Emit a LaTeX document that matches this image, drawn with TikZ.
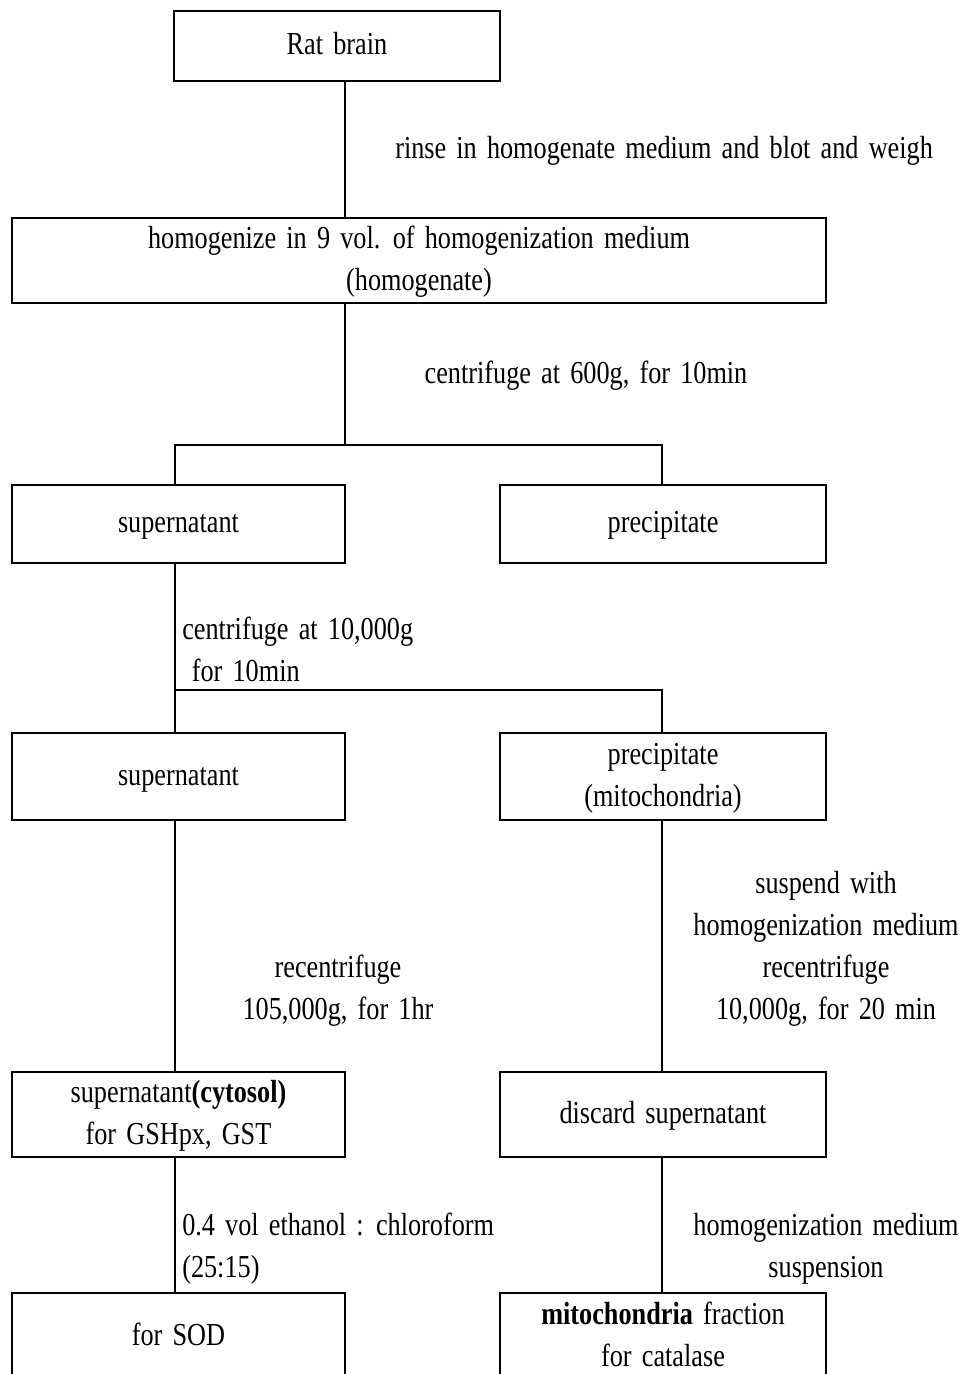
\documentclass[tikz,border=0pt]{standalone}
\usepackage{fontspec}
\setmainfont{Liberation Serif}[FakeStretch=0.82,WordSpace=1.55]
\newcommand{\st}{\rule[-6pt]{0pt}{25pt}}
\begin{document}
\begin{tikzpicture}[x=0.75pt,y=-0.75pt,
  box/.style={draw,line width=0.9pt,rectangle,inner sep=0pt,align=center,
    font=\fontsize{24}{31.5}\selectfont},
  lbl/.style={inner sep=0pt,font=\fontsize{24}{31.5}\selectfont},
  conn/.style={line width=0.9pt}]
\useasboundingbox (0,0) rectangle (960,1374);
\fill[white] (0,0) rectangle (960,1374);
% boxes
\node[box,minimum width=244.5pt,minimum height=52.5pt] (rat) at (337,46) {\st Rat brain};
\node[box,minimum width=610.5pt,minimum height=63.75pt] (homog) at (419,260.5)
  {\st homogenize in 9 vol. of homogenization medium\\\st(homogenate)};
\node[box,minimum width=249.75pt,minimum height=58.5pt] (sup1) at (178.5,524) {\st supernatant};
\node[box,minimum width=244.5pt,minimum height=58.5pt] (pre1) at (663,524) {\st precipitate};
\node[box,minimum width=249.75pt,minimum height=65.25pt] (sup2) at (178.5,776.5) {\st supernatant};
\node[box,minimum width=244.5pt,minimum height=65.25pt] (pre2) at (663,776.5) {\st precipitate\\\st(mitochondria)};
\node[box,minimum width=249.75pt,minimum height=63.75pt] (cyt) at (178.5,1114.5)
  {\st supernatant\textbf{(cytosol)}\\\st for GSHpx, GST};
\node[box,minimum width=244.5pt,minimum height=63.75pt] (disc) at (663,1114.5) {\st discard supernatant};
\node[box,minimum width=249.75pt,minimum height=66pt] (sod) at (178.5,1337) {\st for SOD};
\node[box,minimum width=244.5pt,minimum height=66pt] (mito) at (663,1337)
  {\st\textbf{mitochondria} fraction\\\st for catalase};
% connector coordinates
\coordinate (c1) at (345,0);
\coordinate (cl) at (175,0);
\coordinate (cr) at (662,0);
\coordinate (b1) at (0,445);
\coordinate (b2) at (0,690);
% connectors
\draw[conn] (c1 |- rat.south) -- (c1 |- homog.north);
\draw[conn] (c1 |- homog.south) -- (c1 |- b1);
\draw[conn] (cl |- sup1.north) -- (cl |- b1) -- (cr |- b1) -- (cr |- pre1.north);
\draw[conn] (cl |- sup1.south) -- (cl |- b2);
\draw[conn] (cl |- sup2.north) -- (cl |- b2) -- (cr |- b2) -- (cr |- pre2.north);
\draw[conn] (cl |- sup2.south) -- (cl |- cyt.north);
\draw[conn] (cr |- pre2.south) -- (cr |- disc.north);
\draw[conn] (cl |- cyt.south) -- (cl |- sod.north);
\draw[conn] (cr |- disc.south) -- (cr |- mito.north);
% labels
\node[lbl,anchor=west] (l1) at (395,150) {\st rinse in homogenate medium and blot and weigh};
\node[lbl] (l2) at (586,375) {\st centrifuge at 600g, for 10min};
\node[lbl,anchor=west,align=left] (l3) at (182,651.5) {\st centrifuge at 10,000g\\\st\hspace*{0.3em}for 10min};
\node[lbl,align=center] (l4) at (338,990) {\st recentrifuge\\\st 105,000g, for 1hr};
\node[lbl,align=center] (l5) at (826,947.5) {\st suspend with\\\st homogenization medium\\\st recentrifuge\\\st 10,000g, for 20 min};
\node[lbl,anchor=west,align=left] (l6) at (182,1248) {\st 0.4 vol ethanol : chloroform\\\st(25:15)};
\node[lbl,align=center] (l7) at (826,1248) {\st homogenization medium\\\st suspension};
\end{tikzpicture}
\end{document}
